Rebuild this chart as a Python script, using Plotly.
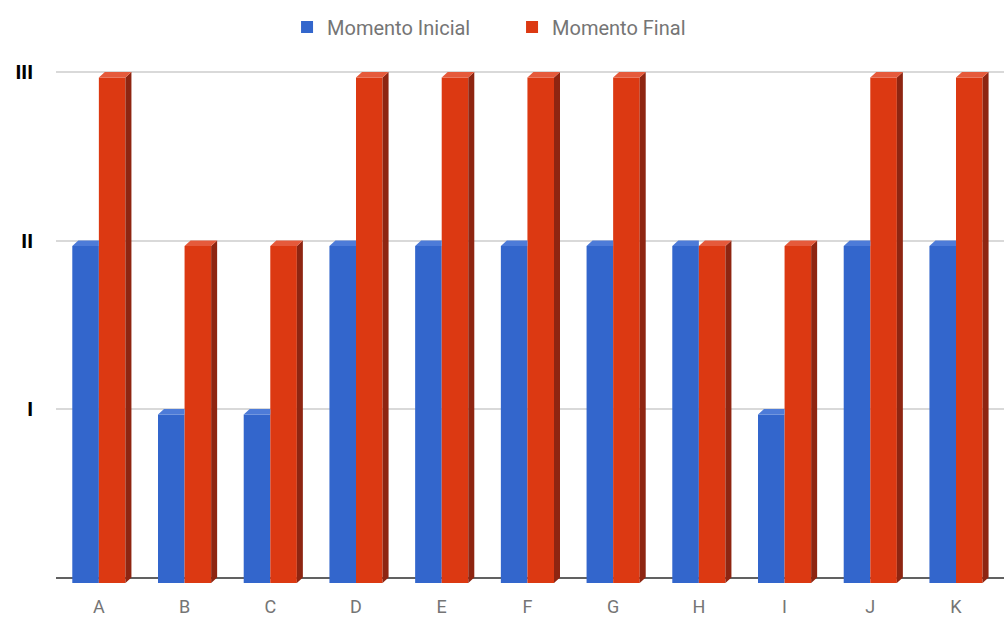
import plotly.graph_objects as go

# --- data -------------------------------------------------------------
categories = ["A", "B", "C", "D", "E", "F", "G", "H", "I", "J", "K"]
momento_inicial = [2, 1, 1, 2, 2, 2, 2, 2, 1, 2, 2]
momento_final = [3, 2, 2, 3, 3, 3, 3, 2, 2, 3, 3]
level_values = [1, 2, 3]
level_labels = ["I", "II", "III"]

# --- styling / geometry -------------------------------------------------
W, H = 1004, 617
M_L, M_R, M_T, M_B = 56, 0, 50, 34
PLOT_W = W - M_L - M_R
PLOT_H = H - M_T - M_B

X_RANGE = [-0.5, 10.56]
PX_PER_X = PLOT_W / (X_RANGE[1] - X_RANGE[0])
PX_PER_Y = 168.5
Y_RANGE = [0, PLOT_H / PX_PER_Y]

DEPTH_X = 6 / PX_PER_X        # 3D depth offset, horizontal (data units)
DEPTH_Y = 5.5 / PX_PER_Y      # 3D depth offset, vertical (data units)
BAR_W = 0.31

BLUE, BLUE_TOP = "#3366CC", "#4D7BD8"
RED, RED_TOP, RED_SIDE = "#DC3912", "#E55A3B", "#8E2511"

xpos = list(range(len(categories)))


def top_faces(values, left_offset, clip_right=False):
    xs, ys = [], []
    for x, v in zip(xpos, values):
        xl = x + left_offset
        xr = xl + BAR_W
        if clip_right:
            pts = [(xl, v), (xl + DEPTH_X, v + DEPTH_Y), (xr, v + DEPTH_Y), (xr, v)]
        else:
            pts = [(xl, v), (xl + DEPTH_X, v + DEPTH_Y), (xr + DEPTH_X, v + DEPTH_Y), (xr, v)]
        pts.append(pts[0])
        xs += [p[0] for p in pts] + [None]
        ys += [p[1] for p in pts] + [None]
    return xs, ys


def side_faces(values, left_offset):
    xs, ys = [], []
    for x, v in zip(xpos, values):
        xr = x + left_offset + BAR_W
        pts = [(xr, 0), (xr + DEPTH_X, DEPTH_Y), (xr + DEPTH_X, v + DEPTH_Y), (xr, v), (xr, 0)]
        xs += [p[0] for p in pts] + [None]
        ys += [p[1] for p in pts] + [None]
    return xs, ys


fig = go.Figure()

# front faces
fig.add_trace(go.Bar(x=xpos, y=momento_inicial, name="Momento Inicial",
                     marker=dict(color=BLUE, line=dict(width=0)),
                     width=BAR_W, offset=-BAR_W, hoverinfo="skip"))
fig.add_trace(go.Bar(x=xpos, y=momento_final, name="Momento Final",
                     marker=dict(color=RED, line=dict(width=0)),
                     width=BAR_W, offset=0, hoverinfo="skip"))

# depth faces
bx, by = top_faces(momento_inicial, -BAR_W, clip_right=True)
fig.add_trace(go.Scatter(x=bx, y=by, mode="lines", fill="toself", fillcolor=BLUE_TOP,
                         line=dict(width=0, color=BLUE_TOP), showlegend=False, hoverinfo="skip"))
sx, sy = side_faces(momento_final, 0)
fig.add_trace(go.Scatter(x=sx, y=sy, mode="lines", fill="toself", fillcolor=RED_SIDE,
                         line=dict(width=0, color=RED_SIDE), showlegend=False, hoverinfo="skip"))
tx, ty = top_faces(momento_final, 0)
fig.add_trace(go.Scatter(x=tx, y=ty, mode="lines", fill="toself", fillcolor=RED_TOP,
                         line=dict(width=0, color=RED_TOP), showlegend=False, hoverinfo="skip"))

# back-plane axis carrying the gridlines and level labels
fig.add_trace(go.Scatter(x=[None], y=[None], yaxis="y2", showlegend=False, hoverinfo="skip"))

fig.update_layout(
    width=W, height=H,
    margin=dict(l=M_L, r=M_R, t=M_T, b=M_B),
    paper_bgcolor="white", plot_bgcolor="white",
    barmode="overlay",
    showlegend=True,
    legend=dict(orientation="h", xref="container", yref="container",
                x=0.51, y=1 - 27 / H, xanchor="center", yanchor="middle",
                font=dict(family="Roboto", size=20, color="#757575"),
                entrywidth=180, entrywidthmode="pixels",
                bgcolor="rgba(0,0,0,0)"),
    xaxis=dict(range=X_RANGE, tickvals=xpos, ticktext=categories,
               showgrid=False, zeroline=False, showline=False,
               tickfont=dict(family="Roboto", size=18, color="#757575"),
               ticks="", ticklabelstandoff=11, fixedrange=True),
    yaxis=dict(range=Y_RANGE, showgrid=False, zeroline=False, showline=False,
               showticklabels=False, ticks="", fixedrange=True),
    yaxis2=dict(range=[Y_RANGE[0] - DEPTH_Y, Y_RANGE[1] - DEPTH_Y],
                overlaying="y", side="left",
                tickvals=level_values, ticktext=level_labels,
                showgrid=True, gridcolor="#d9d9d9", gridwidth=2,
                zeroline=True, zerolinecolor="#616161", zerolinewidth=2,
                showline=False, ticks="", ticklabelstandoff=22,
                tickfont=dict(family="Liberation Sans", size=21, color="#000000", weight="bold"),
                fixedrange=True),
)

fig.write_html("out.html")
